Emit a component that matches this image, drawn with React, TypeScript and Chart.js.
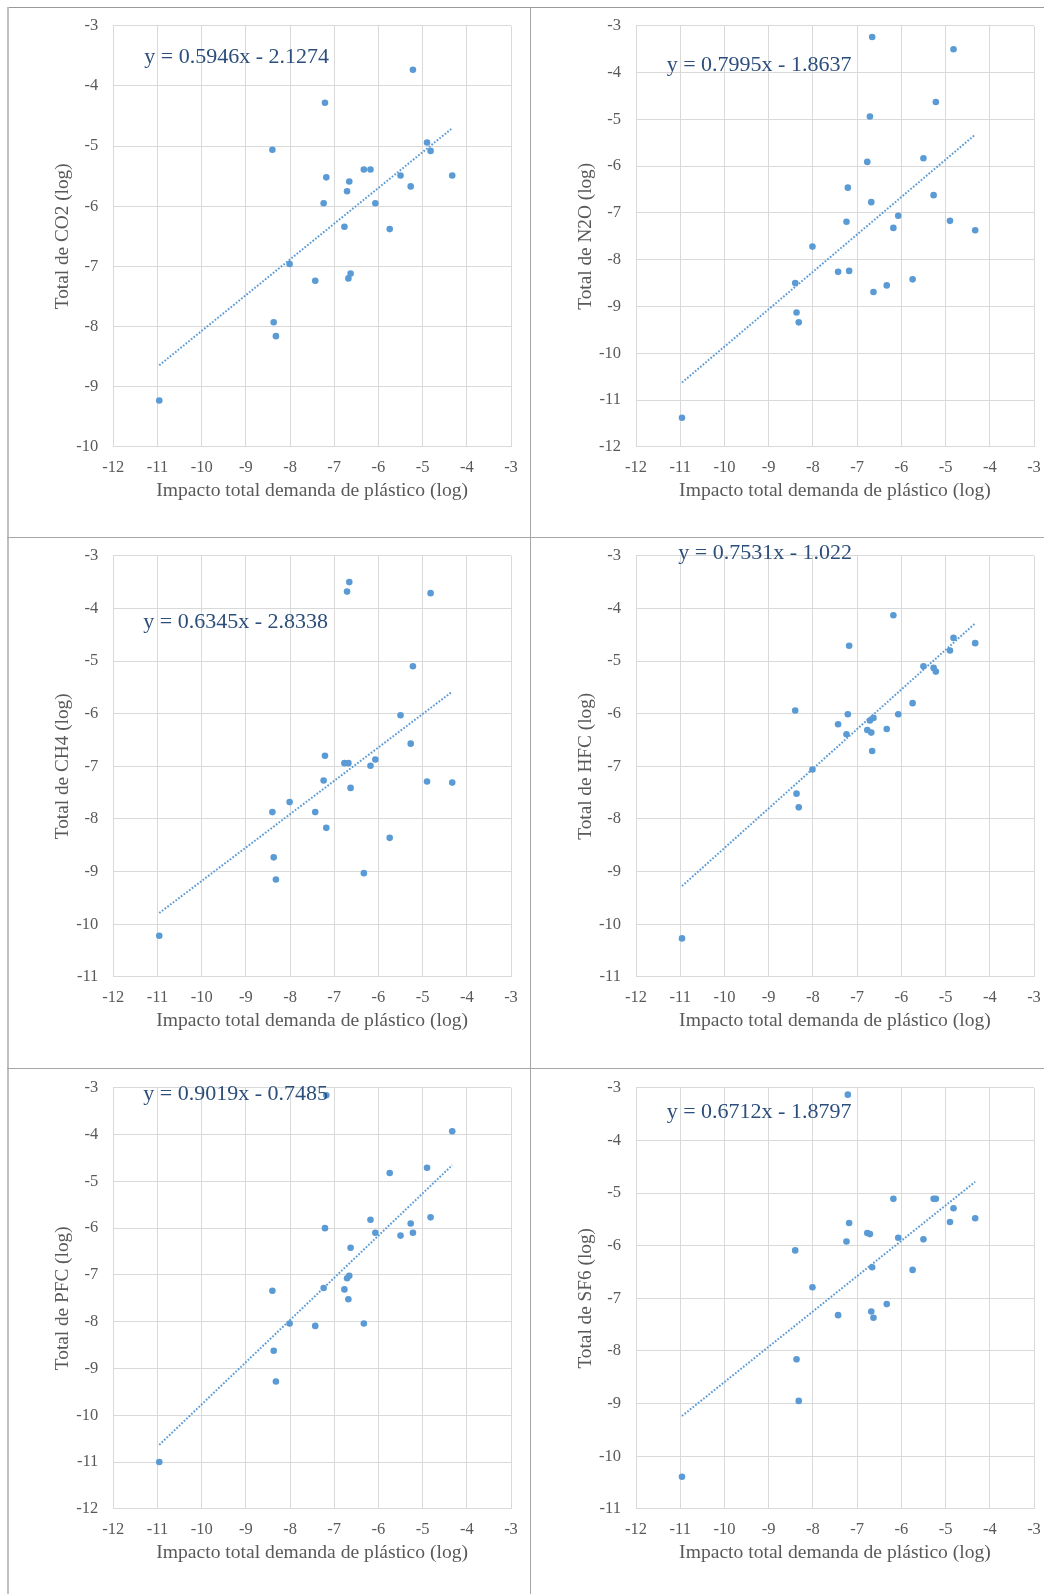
import React, { useEffect, useRef } from "react";
import { Chart, registerables } from "chart.js";

Chart.register(...registerables);

// ---- Data ----
// Shared x values: total plastic demand impact (log), one per sector
const demandX = [
  -10.96, -8.4, -8.37, -8.32, -8.01, -7.43, -7.24, -7.21, -7.18, -6.77, -6.71, -6.68,
  -6.66, -6.63, -6.33, -6.18, -6.07, -5.745, -5.5, -5.27, -5.22, -4.9, -4.82, -4.33,
];

const co2Y = [
  -9.23, -5.06, -7.93, -8.16, -6.96, -7.24, -5.95, -4.28, -5.52, -6.34, -5.75, -7.2,
  -5.59, -7.12, -5.39, -5.39, -5.95, -6.38, -5.49, -5.67, -3.73, -4.94, -5.08, -5.49,
];
const n2oY = [
  -11.38, -8.5, -9.13, -9.34, -7.72, -8.26, -7.19, -6.46, -8.24, -5.91, -4.94, -6.77,
  -3.24, -8.69, -8.55, -7.32, -7.06, -8.42, -5.83, -6.62, -4.63, -7.17, -3.5, -7.37,
];
const ch4Y = [
  -10.22, -7.87, -8.73, -9.15, -7.68, -7.87, -7.27, -6.8, -8.17, -6.94, -3.68, -6.94,
  -3.5, -7.41, -9.03, -6.99, -6.87, -8.36, -6.03, -6.57, -5.1, -7.29, -3.71, -7.31,
];
const hfcY = [
  -10.27, -5.94, -7.52, -7.78, -7.06, -6.2, -6.39, -6.01, -4.71, -6.31, -6.13, -6.36,
  -6.71, -6.08, -6.29, -4.13, -6.01, -5.8, -5.1, -5.13, -5.2, -4.8, -4.56, -4.66,
];
const pfcY = [
  -11.0, -7.34, -8.62, -9.28, -8.04, -8.09, -7.28, -6.0, -3.16, -7.31, -7.07, -7.52,
  -7.02, -6.42, -8.04, -5.82, -6.1, -4.82, -6.16, -5.9, -6.1, -4.71, -5.77, -3.93,
];
const sf6Y = [
  -10.39, -6.09, -8.16, -8.95, -6.79, -7.32, -5.92, -3.13, -5.57, -5.76, -5.78, -7.25,
  -6.41, -7.37, -7.11, -5.11, -5.85, -6.46, -5.88, -5.11, -5.11, -5.55, -5.29, -5.48,
];

const seriesY = [co2Y, n2oY, ch4Y, hfcY, pfcY, sf6Y];
const yTitles = [
  "Total de CO2 (log)",
  "Total de N2O (log)",
  "Total de CH4 (log)",
  "Total de HFC (log)",
  "Total de PFC (log)",
  "Total de SF6 (log)",
];
const xTitle = "Impacto total demanda de plástico (log)";
const xMin = -12;
const xMax = -3;
const yMins = [-10, -12, -11, -11, -12, -11];
const yMax = -3;
const slopes = [0.5946, 0.7995, 0.6345, 0.7531, 0.9019, 0.6712];
const intercepts = [-2.1274, -1.8637, -2.8338, -1.022, -0.7485, -1.8797];
const equationLabels = [
  "y = 0.5946x - 2.1274",
  "y = 0.7995x - 1.8637",
  "y = 0.6345x - 2.8338",
  "y = 0.7531x - 1.022",
  "y = 0.9019x - 0.7485",
  "y = 0.6712x - 1.8797",
];

// ---- Layout / style (not data) ----
const FONT = '"Liberation Serif", "Times New Roman", serif';
const POINT_COLOR = "#5B9BD5";
const TEXT_GRAY = "#595959";
const GRID = "#d9d9d9";
const EQ_COLOR = "#2C4E7A";
const CANVAS_W = 522;
const CANVAS_H = 529;
const PAD_TOP = 17.8;
const PLOT_H = 421;
const colLefts = [8, 531];
const rowTops = [8, 538, 1070];
// equation label offset from chart area top-left (px)
const eqOffsets: [number, number][] = [
  [31, 31.4],
  [30.7, 39.7],
  [30, 66.6],
  [42.3, -2.4],
  [30, 6.6],
  [30.7, 24],
];

function Panel({ idx }: { idx: number }) {
  const ref = useRef<HTMLCanvasElement | null>(null);
  useEffect(() => {
    if (!ref.current) return;
    const ys = seriesY[idx];
    const pts = demandX.map((x, i) => ({ x, y: ys[i] }));
    const lo = Math.min(...demandX);
    const hi = Math.max(...demandX);
    const trend = [lo, hi].map((x) => ({ x, y: slopes[idx] * x + intercepts[idx] }));
    const eqPlugin = {
      id: "eqLabel" + idx,
      afterDraw(chart: any) {
        const { ctx, chartArea } = chart;
        ctx.save();
        ctx.font = `22px ${FONT}`;
        ctx.fillStyle = EQ_COLOR;
        ctx.textBaseline = "middle";
        ctx.textAlign = "left";
        ctx.fillText(
          equationLabels[idx],
          chartArea.left + eqOffsets[idx][0],
          chartArea.top + eqOffsets[idx][1]
        );
        ctx.restore();
      },
    };
    const chart = new Chart(ref.current, {
      type: "scatter",
      data: {
        datasets: [
          {
            type: "line",
            data: trend,
            borderColor: POINT_COLOR,
            borderWidth: 2,
            borderDash: [1.7, 1.7],
            pointRadius: 0,
            fill: false,
            order: 1,
          } as any,
          {
            type: "scatter",
            data: pts,
            backgroundColor: POINT_COLOR,
            borderColor: POINT_COLOR,
            borderWidth: 0,
            pointRadius: 3.3,
            order: 2,
          } as any,
        ],
      },
      options: {
        animation: false,
        responsive: false,
        maintainAspectRatio: false,
        devicePixelRatio: 1,
        layout: { padding: { top: PAD_TOP, right: 19, bottom: 0, left: 0 } },
        plugins: { legend: { display: false }, tooltip: { enabled: false } },
        scales: {
          x: {
            type: "linear",
            min: xMin,
            max: xMax,
            ticks: {
              stepSize: 1,
              padding: 11,
              color: TEXT_GRAY,
              font: { family: FONT, size: 16.5 },
              callback: (v: any) => String(v),
            },
            grid: { color: GRID, drawTicks: false, lineWidth: 1 },
            border: { color: GRID },
            title: {
              display: true,
              text: xTitle,
              color: TEXT_GRAY,
              font: { family: FONT, size: 19.6 },
              padding: { top: 0, bottom: 34.4 },
            },
            afterFit: (s: any) => {
              s.height = CANVAS_H - PAD_TOP - PLOT_H;
              s.paddingLeft = 0;
              s.paddingRight = 0;
            },
          },
          y: {
            type: "linear",
            min: yMins[idx],
            max: yMax,
            ticks: {
              stepSize: 1,
              padding: 15,
              color: TEXT_GRAY,
              font: { family: FONT, size: 16.5 },
              callback: (v: any) => String(v),
            },
            grid: { color: GRID, drawTicks: false, lineWidth: 1 },
            border: { color: GRID },
            title: {
              display: true,
              text: yTitles[idx],
              color: TEXT_GRAY,
              font: { family: FONT, size: 19.3 },
              padding: { top: 43.5, bottom: 0 },
            },
            afterFit: (s: any) => {
              s.width = idx % 2 === 0 ? 105.3 : 105;
              s.paddingTop = 0;
              s.paddingBottom = 0;
            },
          },
        },
      } as any,
      plugins: [eqPlugin],
    });
    return () => chart.destroy();
  }, [idx]);
  const col = idx % 2;
  const row = Math.floor(idx / 2);
  return (
    <canvas
      ref={ref}
      width={CANVAS_W}
      height={CANVAS_H}
      style={{
        position: "absolute",
        left: colLefts[col],
        top: rowTops[row],
        width: CANVAS_W,
        height: CANVAS_H,
      }}
    />
  );
}

export default function App() {
  const line = (s: React.CSSProperties) => (
    <div style={{ position: "absolute", background: "#a6a6a6", ...s }} />
  );
  return (
    <div
      style={{
        position: "absolute",
        left: 0,
        top: 0,
        width: 1044,
        height: 1594,
        overflow: "hidden",
        background: "#ffffff",
      }}
    >
      {[0, 1, 2, 3, 4, 5].map((i) => (
        <Panel key={i} idx={i} />
      ))}
      {line({ left: 7, top: 7, width: 1037, height: 1, background: "#9a9a9a" })}
      {line({ left: 7, top: 7, width: 2, height: 1587, background: "#c0c0c0" })}
      {line({ left: 530, top: 7, width: 1, height: 1587 })}
      {line({ left: 7, top: 537, width: 1037, height: 1 })}
      {line({ left: 7, top: 1068, width: 1037, height: 1 })}
    </div>
  );
}
